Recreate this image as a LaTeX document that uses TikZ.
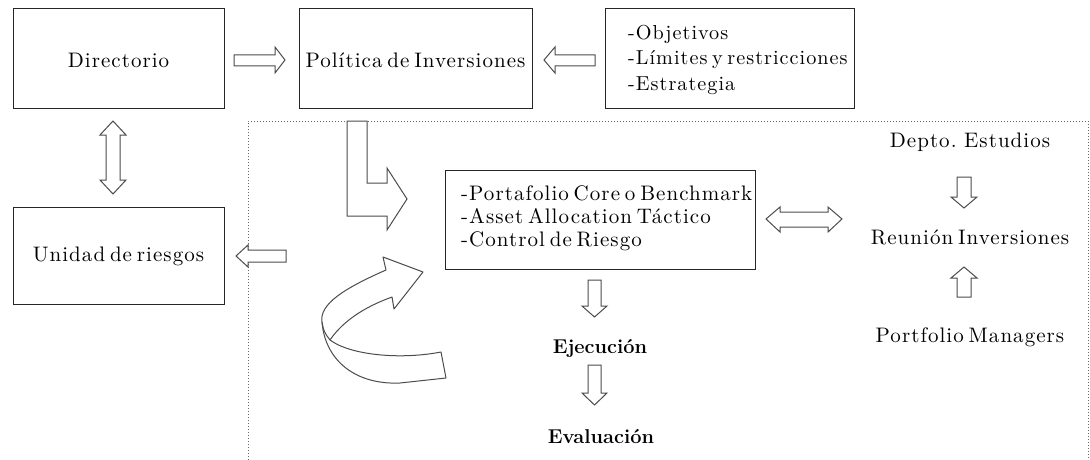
\documentclass[tikz,border=0pt]{standalone}
\usepackage{fontspec}
\newfontfamily\widefont{lmroman10-regular.otf}[LetterSpace=5, WordSpace=0.6, BoldFont=lmroman10-bold.otf]
\begin{document}
\begin{tikzpicture}[x=1pt,y=-1pt,
  txt/.style={inner sep=0pt, font=\widefont\fontsize{21}{25}\selectfont},
  stxt/.style={inner sep=0pt, font=\widefont\fontsize{20.2}{25}\selectfont},
  btxt/.style={inner sep=0pt, font=\fontsize{20}{25}\selectfont\bfseries},
  boxline/.style={draw=black!85, line width=1pt},
  barrow/.style={draw=black!70, line width=1pt, fill=white, line join=miter},
  frame/.style={draw=black!60, line width=1pt, dotted}]
\useasboundingbox[fill=white] (0,0) rectangle (1090,460);

% dotted frame
\draw[frame] (248,460) -- (248,121) -- (1088,121) -- (1088,460);

% boxes
\draw[boxline] (13,9) rectangle (224,108);
\draw[boxline] (299,9) rectangle (532,108);
\draw[boxline] (605,9) rectangle (854,108);
\draw[boxline] (13,207) rectangle (224,304);
\draw[boxline] (445,170) rectangle (755,269);

% texts
\node[txt] (dir) at (118.5,60) {Directorio};
\node[txt] (pol) at (415.5,60) {Política de Inversiones};
\node[stxt, anchor=base west] (obj1) at (628,40) {-Objetivos};
\node[stxt, anchor=base west] (obj2) at (628,65) {-Límites y restricciones};
\node[stxt, anchor=base west] (obj3) at (628,90) {-Estrategia};
\node[txt] (uni) at (118.5,256) {Unidad de riesgos};
\node[txt, anchor=base west] (core1) at (461,200) {-Portafolio Core o Benchmark};
\node[txt, anchor=base west] (core2) at (461,223) {-Asset Allocation Táctico};
\node[txt, anchor=base west] (core3) at (461,246) {-Control de Riesgo};
\node[txt] (dep) at (970,142) {Depto. Estudios};
\node[txt] (reu) at (970,237) {Reunión Inversiones};
\node[txt] (pm) at (970,337) {Portfolio Managers};
\node[btxt] (eje) at (600,348) {Ejecución};
\node[btxt] (eva) at (601,437) {Evaluación};

% block arrows
% Directorio -> Politica
\draw[barrow] (234,55) -- (275,55) -- (275,47) -- (285,60) -- (275,73) -- (275,66) -- (234,66) -- cycle;
% Objetivos -> Politica
\draw[barrow] (595,55) -- (555,55) -- (555,47) -- (544,60) -- (555,73) -- (555,66) -- (595,66) -- cycle;
% Directorio <-> Unidad
\draw[barrow] (113,121) -- (126,135) -- (120,135) -- (120,180) -- (126,180) -- (113,194) -- (100,180) -- (106,180) -- (106,135) -- (100,135) -- cycle;
% -> Unidad de riesgos
\draw[barrow] (286,250) -- (248,250) -- (248,245) -- (236,256) -- (248,267) -- (248,262) -- (286,262) -- cycle;
% bent arrow
\draw[barrow] (347,121) -- (347,216) -- (387,216) -- (387,230) -- (407,199) -- (387,168) -- (387,183) -- (367,183) -- (367,121) -- cycle;
% double horizontal arrow
\draw[barrow] (766,219) -- (780,207) -- (780,212) -- (828,212) -- (828,207) -- (842,219) -- (828,232) -- (828,227) -- (780,227) -- (780,232) -- cycle;
% Depto -> Reunion
\draw[barrow] (957,177) -- (971,177) -- (971,197) -- (977,197) -- (964,208) -- (951,197) -- (957,197) -- cycle;
% Portfolio -> Reunion
\draw[barrow] (957,297) -- (971,297) -- (971,278) -- (977,278) -- (964,267) -- (951,278) -- (957,278) -- cycle;
% core -> Ejecucion
\draw[barrow] (588,280) -- (601,280) -- (601,306) -- (607,306) -- (594.5,317) -- (582,306) -- (588,306) -- cycle;
% Ejecucion -> Evaluacion
\draw[barrow] (588,365) -- (601,365) -- (601,393) -- (607,393) -- (594.5,405) -- (582,393) -- (588,393) -- cycle;

% curved arrow
\draw[barrow, line join=round] (386,270) .. controls (345,288) and (319,304) .. (322,322)
  .. controls (325,360) and (355,385) .. (400,383)
  -- (446,378) -- (441,352)
  .. controls (400,360) and (350,355) .. (330,340)
  .. controls (345,318) and (370,305) .. (392,297)
  -- (394,309) -- (423,272) -- (383,257) -- cycle;
\draw[barrow] (322,322) .. controls (324,332) .. (330,340);
\end{tikzpicture}
\end{document}
